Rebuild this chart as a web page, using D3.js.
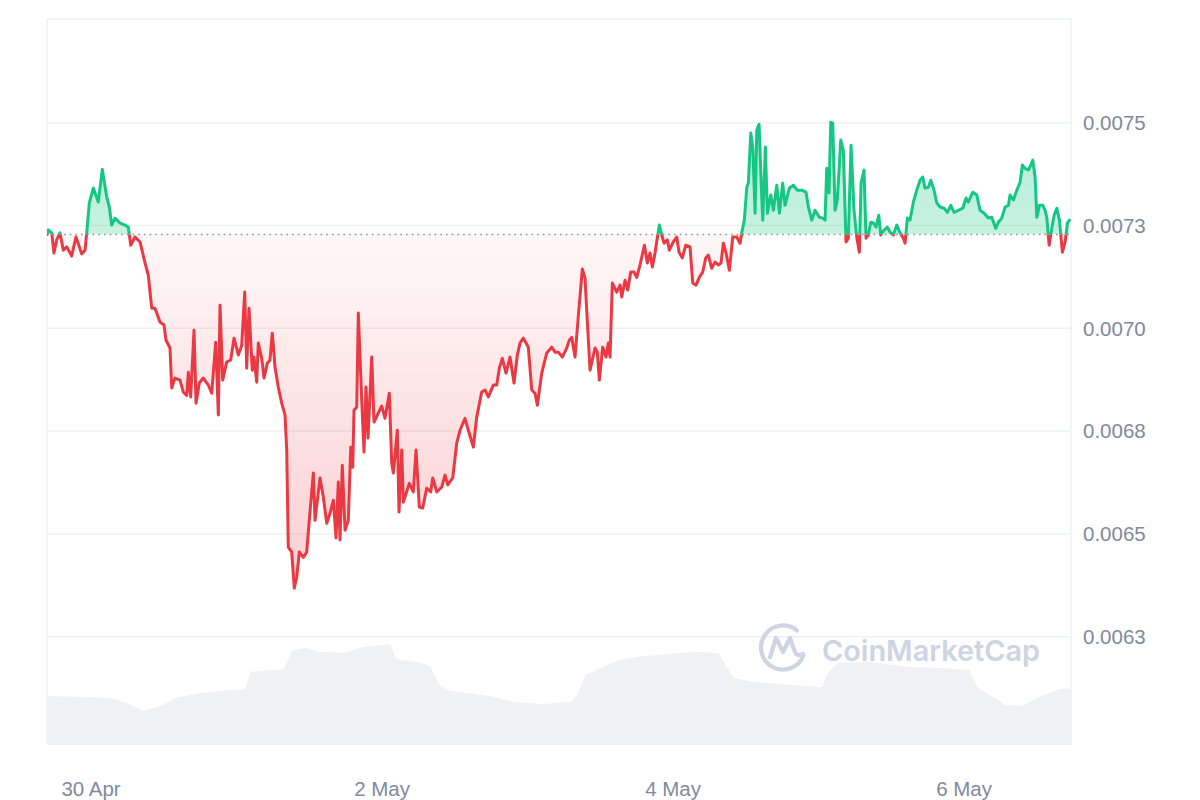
<!DOCTYPE html>
<html>
<head>
<meta charset="utf-8">
<script src="https://cdn.jsdelivr.net/npm/d3@7"></script>
<style>
  html, body { margin: 0; padding: 0; background: #ffffff; }
  svg { display: block; }
</style>
</head>
<body>
<svg id="chart" width="1200" height="800"></svg>
<script>
// ---------------- DATA ----------------
const startTime = new Date(2024, 3, 29, 16, 44);   // 29 Apr 16:44
const spanHours = 168.9;

const priceHours = [0,0.21,0.78,1.15,1.60,2.14,2.69,3.25,4.07,4.78,5.72,6.27,6.55,6.98,7.64,8.46,9.12,9.85,10.28,10.67,11.22,12.04,12.87,13.41,13.81,14.52,15.34,16.17,16.71,17.27,17.81,18.64,19.30,19.63,20.29,20.57,21.11,21.94,22.48,23.04,23.31,23.70,24.25,24.58,25.12,25.78,26.61,27.17,27.83,28.26,28.54,28.98,29.64,30.30,30.85,31.56,32.12,32.61,32.94,33.32,33.86,34.14,34.59,34.85,35.42,35.79,36.34,36.78,37.16,37.61,38.15,38.71,39.26,39.54,39.80,40.36,40.79,41.19,41.62,42.28,42.84,43.22,43.93,44.21,45.03,45.58,46.14,46.68,47.23,47.67,48.05,48.33,48.71,49.16,49.70,50.10,50.43,50.64,51.09,51.35,51.91,52.29,52.62,52.95,53.56,53.94,54.65,55.21,55.75,56.46,56.86,57.12,57.78,58.06,58.51,58.77,59.76,60.42,60.87,61.41,61.97,62.63,63.29,63.62,64.28,65.11,65.65,66.10,66.92,67.58,68.12,68.95,69.49,70.32,70.88,71.70,72.25,72.79,73.62,74.18,74.61,75.10,75.71,76.37,77.03,77.58,78.02,78.57,79.39,79.95,80.50,80.88,81.60,82.43,83.25,83.80,84.34,85.00,85.72,86.15,86.55,87.09,87.64,88.30,88.74,89.02,89.57,90.39,90.77,91.10,91.66,92.21,92.59,92.87,93.25,93.97,94.52,94.80,95.34,95.79,96.28,96.83,97.27,97.82,98.53,99.02,99.46,99.85,100.29,100.74,101.00,101.40,101.78,102.32,102.65,103.31,103.87,104.25,104.79,105.35,106.06,106.51,107.05,107.60,108.16,108.65,109.08,109.64,110.19,110.73,111.18,111.56,112.00,112.55,113.11,113.77,114.31,114.59,115.02,115.42,115.68,116.08,116.41,116.79,117.07,117.45,117.78,118.06,118.49,118.82,119.38,119.81,120.37,120.80,121.35,121.73,122.44,123.10,123.76,124.49,125.20,125.58,126.14,126.68,127.39,127.95,128.33,128.61,128.99,129.27,129.60,129.98,130.36,130.92,131.35,131.79,132.17,132.62,133.11,133.56,133.99,134.27,134.76,135.09,135.47,135.87,136.30,136.74,137.19,137.52,138.06,138.61,139.05,139.60,140.16,140.70,141.25,141.53,141.91,142.35,142.90,143.46,144.00,144.45,144.83,145.37,145.77,146.31,146.76,147.30,147.96,148.51,149.07,149.61,150.32,151.05,151.59,151.97,152.70,153.36,153.90,154.56,155.27,155.83,156.49,156.92,157.48,158.03,158.57,158.85,159.40,159.96,160.50,160.88,161.33,161.87,162.27,162.60,162.98,163.26,163.69,164.25,164.63,164.91,165.29,165.73,166.11,166.56,166.99,167.48,167.93,168.31,168.64];

const prices = [0.007228,
0.007239,0.007232,0.007183,0.007215,0.007232,0.007190,0.007198,0.007176,0.007222,0.007181,0.007190,0.007232,
0.007305,0.007341,0.007307,0.007387,0.007319,0.007295,0.007251,0.007268,0.007256,0.007251,0.007246,0.007202,0.007222,0.007210,0.007159,0.007129,
0.007049,0.007049,0.007015,0.007008,0.006971,0.006952,0.006855,0.006879,0.006874,0.006845,0.006837,0.006893,0.006833,
0.006995,0.006818,0.006867,0.006879,0.006862,0.006842,0.006966,0.006789,0.007056,0.006874,0.006918,0.006923,0.006976,0.006935,0.006959,
0.007088,0.006903,0.007049,0.006898,0.006930,0.006869,0.006964,0.006927,0.006879,0.006915,0.006923,0.006988,0.006905,0.006857,0.006818,0.006789,
0.006704,0.006468,0.006456,0.006368,0.006395,0.006456,0.006443,0.006456,
0.006526,0.006648,0.006533,0.006636,0.006589,0.006526,0.006550,0.006582,0.006490,0.006626,0.006485,0.006667,0.006509,0.006533,0.006711,0.006662,0.006801,0.006808,
0.007037,0.006825,0.006699,0.006857,0.006733,0.006930,0.006772,0.006794,0.006811,0.006781,0.006842,0.006672,0.006648,0.006752,0.006553,0.006704,0.006577,
0.006623,0.006602,0.006704,0.006565,0.006563,0.006611,0.006602,0.006636,0.006602,0.006614,0.006643,0.006619,0.006636,0.006721,0.006752,0.006781,0.006752,0.006711,
0.006784,0.006845,0.006850,0.006833,0.006862,0.006862,0.006903,0.006927,0.006891,0.006930,0.006867,0.006935,0.006964,0.006976,0.006954,0.006850,0.006842,
0.006813,0.006891,0.006940,0.006954,0.006942,0.006942,0.006930,0.006952,0.006971,0.006978,0.006930,0.007030,
0.007144,0.007122,0.007044,0.006898,0.006952,0.006942,0.006874,0.006954,0.006930,0.006964,0.006930,
0.007110,0.007088,0.007105,0.007076,0.007117,0.007093,0.007137,0.007137,0.007124,0.007154,0.007202,0.007159,0.007183,0.007149,0.007183,0.007227,0.007251,
0.007227,0.007207,0.007215,0.007190,0.007210,0.007222,0.007185,0.007171,0.007202,0.007198,
0.007110,0.007105,0.007124,0.007137,0.007171,0.007178,0.007146,0.007161,0.007154,0.007159,0.007207,0.007183,0.007141,0.007222,0.007222,0.007207,0.007232,
0.007263,0.007343,0.007353,0.007475,0.007441,0.007280,0.007482,0.007496,0.007360,0.007263,0.007441,0.007280,
0.007324,0.007287,0.007348,0.007280,0.007353,0.007299,0.007341,0.007348,0.007336,0.007336,0.007331,0.007295,0.007263,0.007287,0.007270,0.007268,0.007263,
0.007389,0.007329,0.007501,0.007499,0.007287,0.007312,0.007458,0.007433,0.007210,0.007219,0.007445,0.007287,0.007222,0.007185,0.007353,0.007385,
0.007219,0.007227,0.007258,0.007256,0.007246,0.007275,0.007227,0.007239,0.007246,0.007234,0.007227,0.007251,0.007232,0.007219,0.007207,0.007268,0.007263,
0.007307,0.007336,0.007360,0.007368,0.007341,0.007343,0.007360,0.007336,0.007305,0.007295,0.007292,0.007282,0.007299,0.007282,0.007287,0.007292,
0.007317,0.007307,0.007331,0.007324,0.007287,0.007280,0.007268,0.007270,0.007243,0.007258,0.007268,0.007295,0.007299,0.007324,0.007312,0.007336,0.007355,
0.007397,0.007389,0.007385,0.007397,0.007409,0.007368,0.007270,0.007299,0.007299,0.007287,0.007270,0.007202,0.007243,0.007275,0.007292,0.007263,0.007185,0.007210,0.007256,0.007263];

const volumeHours = [0,4.87,10.56,13.08,15.92,18.75,21.28,25.07,28.87,32.66,33.60,38.96,40.54,42.76,44.64,49.06,52.22,56.64,57.57,61.69,63.26,64.83,66.43,73.68,76.83,81.88,86.60,87.57,88.83,91.22,94.35,97.49,103.83,107.63,110.78,112.05,113.32,116.45,122.79,127.83,128.78,130.36,135.42,141.69,148.03,152.13,153.40,156.87,158.14,160.66,163.79,166.93,168.9];
const volumes = [490000,483000,470000,420000,343000,390000,473000,517000,543000,557000,733000,757000,950000,973000,933000,923000,983000,1007000,857000,823000,783000,590000,543000,483000,433000,410000,433000,517000,700000,767000,850000,883000,917000,933000,917000,783000,667000,633000,600000,577000,717000,817000,833000,783000,767000,750000,583000,450000,400000,390000,483000,557000,567000];

const yTickValues = [0.00625, 0.0065, 0.00675, 0.007, 0.00725, 0.0075];
const yTickLabels = ["0.0063", "0.0065", "0.0068", "0.0070", "0.0073", "0.0075"];
const xTickDates = [new Date(2024, 3, 30), new Date(2024, 4, 2), new Date(2024, 4, 4), new Date(2024, 4, 6)];
const xTickLabels = ["30 Apr", "2 May", "4 May", "6 May"];

// ---------------- LAYOUT ----------------
const L = 47, R = 1071, T = 19, B = 745;
const GREEN = "#16c784", RED = "#ea3943", GRID = "#eff1f4", TEXT = "#808a9d";
const FONT = "'Liberation Sans', Arial, Helvetica, sans-serif";

const hourMs = 3600 * 1000;
const toDate = h => new Date(startTime.getTime() + h * hourMs);

const x = d3.scaleTime().domain([startTime, toDate(spanHours)]).range([L, R]);
const y = d3.scaleLinear().domain([0.0059866, 0.0077522]).range([B, T]);
const yVol = d3.scaleLinear().domain([0, 1050000]).range([B, 640]);

const priceData = d3.range(Math.min(priceHours.length, prices.length)).map(i => ({ t: toDate(priceHours[i]), v: prices[i] }));
const volData = volumeHours.map((h, i) => ({ t: toDate(h), v: volumes[i] }));
const baseline = prices[0];
const by = y(baseline);

const svg = d3.select("#chart");
const defs = svg.append("defs");

defs.append("clipPath").attr("id", "clipAbove").append("rect")
  .attr("x", L).attr("y", T).attr("width", R - L).attr("height", by - T);
defs.append("clipPath").attr("id", "clipBelow").append("rect")
  .attr("x", L).attr("y", by).attr("width", R - L).attr("height", B - by);

const gRed = defs.append("linearGradient").attr("id", "gradRed")
  .attr("gradientUnits", "userSpaceOnUse").attr("x1", 0).attr("x2", 0)
  .attr("y1", by).attr("y2", y(d3.min(prices)));
gRed.append("stop").attr("offset", 0).attr("stop-color", RED).attr("stop-opacity", 0.04);
gRed.append("stop").attr("offset", 1).attr("stop-color", RED).attr("stop-opacity", 0.24);

const gGreen = defs.append("linearGradient").attr("id", "gradGreen")
  .attr("gradientUnits", "userSpaceOnUse").attr("x1", 0).attr("x2", 0)
  .attr("y1", y(d3.max(prices))).attr("y2", by);
gGreen.append("stop").attr("offset", 0).attr("stop-color", GREEN).attr("stop-opacity", 0.32);
gGreen.append("stop").attr("offset", 1).attr("stop-color", GREEN).attr("stop-opacity", 0.24);

// volume area
svg.append("path")
  .datum(volData)
  .attr("fill", "#eff1f5")
  .attr("d", d3.area().x(d => x(d.t)).y0(B).y1(d => yVol(d.v)));

// grid lines
svg.append("g").selectAll("line").data(yTickValues).join("line")
  .attr("x1", L).attr("x2", R)
  .attr("y1", d => y(d)).attr("y2", d => y(d))
  .attr("stroke", GRID).attr("stroke-width", 1.5);

// plot borders
svg.append("path")
  .attr("d", `M${L},${B}V${T}H${R}V${B}`)
  .attr("fill", "none").attr("stroke", GRID).attr("stroke-width", 1.5);

// watermark
const wm = svg.append("g");
wm.append("path")
  .attr("d", "M803.5,655.5 A22,22 0 1,1 797,630.5")
  .attr("fill", "none").attr("stroke", "#cdd4e2").attr("stroke-width", 4.2).attr("stroke-linecap", "round");
wm.append("path")
  .attr("d", "M770,657 L776,638 L783,652 L790,638 L795,652 Q797,657 803,654")
  .attr("fill", "none").attr("stroke", "#cdd4e2").attr("stroke-width", 4.2)
  .attr("stroke-linejoin", "round").attr("stroke-linecap", "round");
wm.append("text")
  .attr("x", 822).attr("y", 661)
  .attr("font-family", "Inter, 'Noto Sans', sans-serif")
  .attr("font-weight", 600).attr("font-size", 29)
  .attr("textLength", 218).attr("lengthAdjust", "spacingAndGlyphs")
  .attr("fill", "#cdd4e2")
  .text("CoinMarketCap");

// areas
const area = d3.area().x(d => x(d.t)).y0(by).y1(d => y(d.v));
svg.append("path").datum(priceData).attr("clip-path", "url(#clipAbove)")
  .attr("fill", "url(#gradGreen)").attr("d", area);
svg.append("path").datum(priceData).attr("clip-path", "url(#clipBelow)")
  .attr("fill", "url(#gradRed)").attr("d", area);

// baseline dotted
svg.append("line")
  .attr("x1", L).attr("x2", R).attr("y1", by).attr("y2", by)
  .attr("stroke", "#8a93a3").attr("stroke-width", 1.6)
  .attr("stroke-dasharray", "1.6,4.1");

// lines
const line = d3.line().x(d => x(d.t)).y(d => y(d.v));
svg.append("path").datum(priceData).attr("clip-path", "url(#clipAbove)")
  .attr("fill", "none").attr("stroke", GREEN).attr("stroke-width", 3)
  .attr("stroke-linejoin", "round").attr("stroke-linecap", "round").attr("d", line);
svg.append("path").datum(priceData).attr("clip-path", "url(#clipBelow)")
  .attr("fill", "none").attr("stroke", RED).attr("stroke-width", 3)
  .attr("stroke-linejoin", "round").attr("stroke-linecap", "round").attr("d", line);

// y labels
svg.append("g").selectAll("text").data(yTickValues).join("text")
  .attr("x", 1083).attr("y", d => y(d))
  .attr("dy", "0.36em")
  .attr("font-family", FONT).attr("font-size", 20.5).attr("fill", TEXT)
  .text((d, i) => yTickLabels[i]);

// x labels
svg.append("g").selectAll("text").data(xTickDates).join("text")
  .attr("x", d => x(d)).attr("y", 796)
  .attr("text-anchor", "middle")
  .attr("font-family", FONT).attr("font-size", 20.5).attr("fill", TEXT)
  .text((d, i) => xTickLabels[i]);
</script>
</body>
</html>
